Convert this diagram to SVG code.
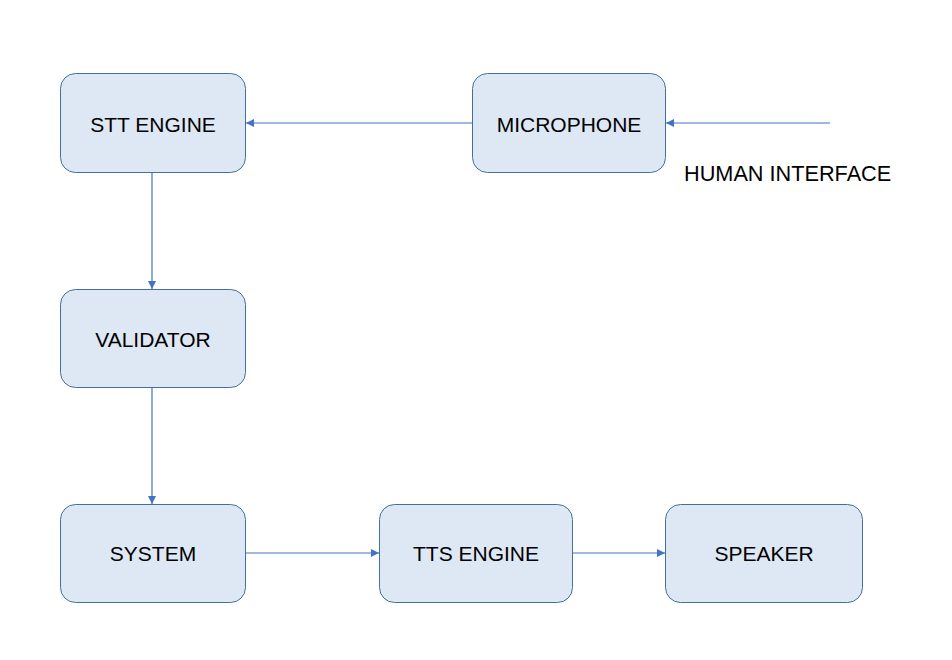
<svg xmlns="http://www.w3.org/2000/svg" width="952" height="660" viewBox="0 0 952 660">
<style>
.node rect{fill:#dee8f5;stroke:#41719c;stroke-width:1}
text{font-family:"Liberation Sans",Arial,sans-serif;font-size:21px;fill:#000}
.node text{text-anchor:middle;dominant-baseline:central}
.conn line{stroke:#4472c4;stroke-width:1.2;fill:none}
</style>
<defs>
<marker id="arr" viewBox="0 0 10 10" refX="10" refY="5" markerWidth="8" markerHeight="8" markerUnits="userSpaceOnUse" orient="auto">
<path d="M0,0 L10,5 L0,10 z" fill="#4472c4"/>
</marker>
</defs>
<rect width="952" height="660" fill="#fff"/>
<g class="conn">
<line x1="830" y1="123" x2="666" y2="123" marker-end="url(#arr)"/>
<line x1="472" y1="123" x2="246" y2="123" marker-end="url(#arr)"/>
<line x1="152" y1="172" x2="152" y2="289" marker-end="url(#arr)"/>
<line x1="152" y1="387" x2="152" y2="504" marker-end="url(#arr)"/>
<line x1="245" y1="553" x2="379" y2="553" marker-end="url(#arr)"/>
<line x1="572" y1="553" x2="665" y2="553" marker-end="url(#arr)"/>
</g>
<g id="stt" class="node"><rect x="60.5" y="73.5" width="185" height="99" rx="15"/><text x="153" y="124">STT ENGINE</text></g>
<g id="mic" class="node"><rect x="472.5" y="73.5" width="193" height="99" rx="15"/><text x="569" y="124">MICROPHONE</text></g>
<g id="validator" class="node"><rect x="60.5" y="289.5" width="185" height="98" rx="15"/><text x="153" y="339">VALIDATOR</text></g>
<g id="system" class="node"><rect x="60.5" y="504.5" width="185" height="98" rx="15"/><text x="153" y="553">SYSTEM</text></g>
<g id="tts" class="node"><rect x="379.5" y="504.5" width="193" height="98" rx="15"/><text x="476" y="553">TTS ENGINE</text></g>
<g id="speaker" class="node"><rect x="665.5" y="504.5" width="197" height="98" rx="15"/><text x="764" y="553">SPEAKER</text></g>
<text id="human" x="684" y="181" style="font-size:21.7px">HUMAN INTERFACE</text>
</svg>
